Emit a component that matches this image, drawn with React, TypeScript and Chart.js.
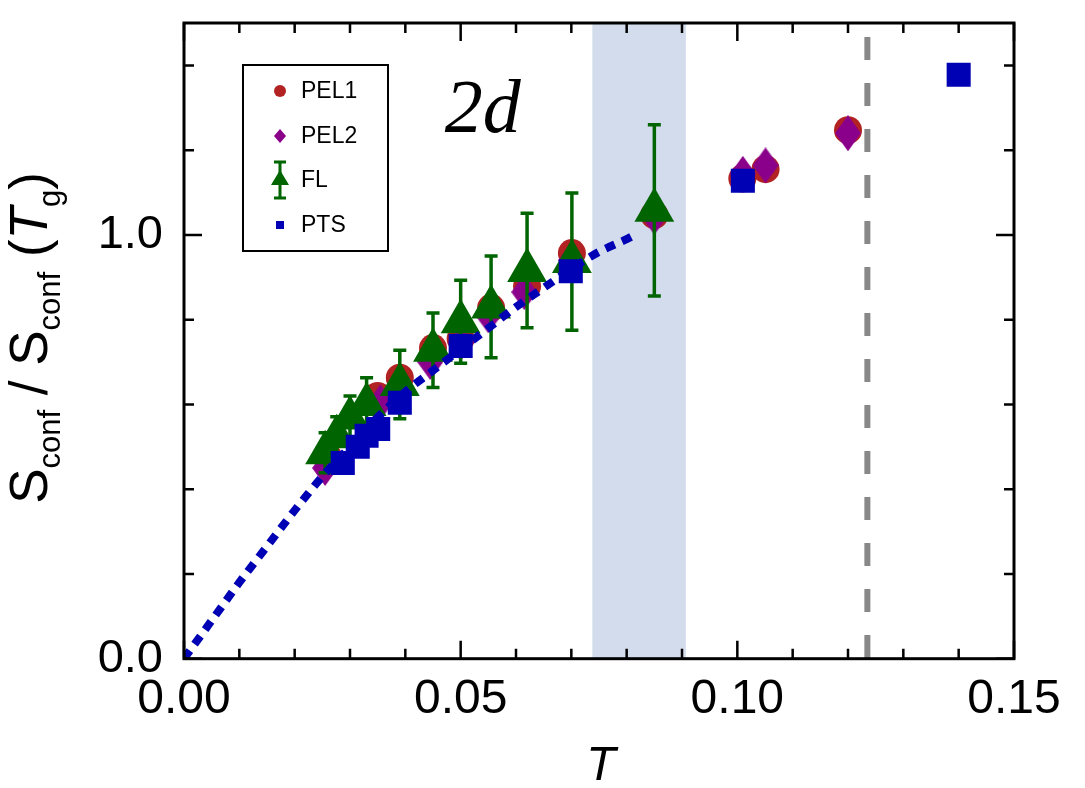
import { useEffect, useRef } from "react"
import { Chart, registerables, type ChartConfiguration } from "chart.js"

Chart.register(...registerables)

// PEL1 (red circles)
const pel1T = [0.0261, 0.035, 0.039, 0.045, 0.05, 0.0555, 0.062, 0.0701, 0.085, 0.1009, 0.1051, 0.12]
const pel1S = [0.475, 0.62, 0.663, 0.733, 0.755, 0.828, 0.879, 0.957, 1.047, 1.133, 1.155, 1.247]

// PEL2 (purple diamonds)
const pel2T = [0.0255, 0.0355, 0.039, 0.0445, 0.05, 0.055, 0.0615, 0.07, 0.085, 0.101, 0.1051, 0.12]
const pel2S = [0.45, 0.605, 0.645, 0.7, 0.745, 0.81, 0.865, 0.94, 1.043, 1.144, 1.164, 1.24]

// FL (green triangles with error bars)
const flT = [0.0255, 0.0276, 0.03, 0.033, 0.039, 0.045, 0.05, 0.0555, 0.062, 0.0701, 0.085]
const flS = [0.486, 0.524, 0.568, 0.6, 0.647, 0.728, 0.795, 0.83, 0.916, 0.937, 1.058]
const flErr = [0.047, 0.047, 0.052, 0.063, 0.081, 0.088, 0.098, 0.12, 0.135, 0.162, 0.202]

// PTS (blue squares)
const ptsT = [0.0287, 0.0314, 0.033, 0.0351, 0.039, 0.05, 0.0699, 0.101, 0.14]
const ptsS = [0.462, 0.5, 0.526, 0.542, 0.604, 0.738, 0.914, 1.128, 1.378]

// blue dotted curve
const fitT = [0, 0.005, 0.01, 0.015, 0.02, 0.025, 0.03, 0.035, 0.04, 0.045, 0.05, 0.055, 0.06, 0.065, 0.07, 0.075, 0.08, 0.0815]
const fitS = [0, 0.09, 0.18, 0.265, 0.35, 0.43, 0.5, 0.57, 0.63, 0.68, 0.73, 0.78, 0.83, 0.875, 0.92, 0.96, 0.99, 1.0]

// shaded band and dashed T_g line
const bandT = [0.0738, 0.0907]
const tgLineT = 0.1235

// ticks
const xTickLabels = [0, 0.05, 0.1, 0.15]
const xMinorTicks = [0.01, 0.02, 0.03, 0.04, 0.06, 0.07, 0.08, 0.09, 0.11, 0.12, 0.13, 0.14]
const yTickLabels = [0, 1.0]
const yMinorTicks = [0.2, 0.4, 0.6, 0.8, 1.2, 1.4]

const RED = "#b22222"
const PURPLE = "#8b008b"
const GREEN = "#006400"
const BLUE = "#0000b4"
const SANS = "'Liberation Sans', Arial, sans-serif"

function makeDiamond(w: number, h: number) {
  const c = document.createElement("canvas")
  c.width = w
  c.height = h
  const g = c.getContext("2d")!
  g.fillStyle = PURPLE
  g.beginPath()
  g.moveTo(w / 2, 0)
  g.lineTo(w, h / 2)
  g.lineTo(w / 2, h)
  g.lineTo(0, h / 2)
  g.closePath()
  g.fill()
  return c
}

const toPoints = (xs: number[], ys: number[]) => xs.map((x, i) => ({ x, y: ys[i] }))

const decorations = {
  id: "decorations",
  beforeDatasetsDraw(chart: any) {
    const { ctx, chartArea: a, scales } = chart
    const xs = scales.x
    const ys = scales.y
    ctx.save()
    // shaded band
    const b0 = xs.getPixelForValue(bandT[0])
    const b1 = xs.getPixelForValue(bandT[1])
    ctx.fillStyle = "rgb(211, 220, 237)"
    ctx.fillRect(b0, a.top, b1 - b0, a.bottom - a.top)
    // dashed vertical line
    const tx = xs.getPixelForValue(tgLineT)
    ctx.strokeStyle = "#888888"
    ctx.lineWidth = 6
    ctx.setLineDash([23, 23])
    ctx.lineDashOffset = 32
    ctx.beginPath()
    ctx.moveTo(tx, ys.getPixelForValue(1.5))
    ctx.lineTo(tx, ys.getPixelForValue(0))
    ctx.stroke()
    ctx.restore()
  },
  beforeDatasetDraw(chart: any, args: any) {
    if (chart.data.datasets[args.index].label !== "FL") return
    const { ctx, scales } = chart
    ctx.save()
    ctx.strokeStyle = GREEN
    ctx.lineWidth = 3.5
    flT.forEach((t, i) => {
      const x = scales.x.getPixelForValue(t)
      const yTop = scales.y.getPixelForValue(flS[i] + flErr[i])
      const yBot = scales.y.getPixelForValue(flS[i] - flErr[i])
      ctx.beginPath()
      ctx.moveTo(x, yTop)
      ctx.lineTo(x, yBot)
      ctx.moveTo(x - 6.5, yTop)
      ctx.lineTo(x + 6.5, yTop)
      ctx.moveTo(x - 6.5, yBot)
      ctx.lineTo(x + 6.5, yBot)
      ctx.stroke()
    })
    ctx.restore()
  },
  afterDraw(chart: any) {
    const { ctx, chartArea: a, scales } = chart
    const xs = scales.x
    const ys = scales.y
    ctx.save()

    // frame
    ctx.strokeStyle = "#000"
    ctx.lineWidth = 3
    ctx.strokeRect(a.left, a.top, a.right - a.left, a.bottom - a.top)

    // ticks on all four sides
    ctx.lineWidth = 2.5
    const xTick = (v: number, len: number) => {
      const p = xs.getPixelForValue(v)
      ctx.beginPath()
      ctx.moveTo(p, a.bottom)
      ctx.lineTo(p, a.bottom - len)
      ctx.moveTo(p, a.top)
      ctx.lineTo(p, a.top + len)
      ctx.stroke()
    }
    const yTick = (v: number, len: number) => {
      const p = ys.getPixelForValue(v)
      ctx.beginPath()
      ctx.moveTo(a.left, p)
      ctx.lineTo(a.left + len, p)
      ctx.moveTo(a.right, p)
      ctx.lineTo(a.right - len, p)
      ctx.stroke()
    }
    xTickLabels.forEach((v) => xTick(v, 18))
    xMinorTicks.forEach((v) => xTick(v, 10))
    yTickLabels.forEach((v) => yTick(v, 18))
    yMinorTicks.forEach((v) => yTick(v, 10))

    // "2d" label
    ctx.fillStyle = "#000"
    ctx.font = "italic 76px 'Liberation Serif', 'Times New Roman', serif"
    ctx.textAlign = "center"
    ctx.textBaseline = "alphabetic"
    ctx.fillText("2d", xs.getPixelForValue(0.054), ys.getPixelForValue(1.243))

    // legend
    const lx = a.left + 59
    const ly = a.top + 42
    ctx.lineWidth = 2
    ctx.strokeRect(lx, ly, 145, 186)
    const mx = lx + 37
    const rows = [ly + 26, ly + 71, ly + 115, ly + 160]
    ctx.font = `23px ${SANS}`
    ctx.textAlign = "left"
    ctx.textBaseline = "middle"
    ;["PEL1", "PEL2", "FL", "PTS"].forEach((t, i) => {
      ctx.fillStyle = "#000"
      ctx.fillText(t, lx + 58, rows[i] + 1)
    })
    // PEL1 marker
    ctx.fillStyle = RED
    ctx.beginPath()
    ctx.arc(mx, rows[0], 6, 0, Math.PI * 2)
    ctx.fill()
    // PEL2 marker
    ctx.fillStyle = PURPLE
    ctx.beginPath()
    ctx.moveTo(mx, rows[1] - 7)
    ctx.lineTo(mx + 6, rows[1])
    ctx.lineTo(mx, rows[1] + 7)
    ctx.lineTo(mx - 6, rows[1])
    ctx.closePath()
    ctx.fill()
    // FL marker
    ctx.strokeStyle = GREEN
    ctx.lineWidth = 3
    ctx.beginPath()
    ctx.moveTo(mx, rows[2] - 18)
    ctx.lineTo(mx, rows[2] + 18)
    ctx.moveTo(mx - 6, rows[2] - 18)
    ctx.lineTo(mx + 6, rows[2] - 18)
    ctx.moveTo(mx - 6, rows[2] + 18)
    ctx.lineTo(mx + 6, rows[2] + 18)
    ctx.stroke()
    ctx.fillStyle = GREEN
    ctx.beginPath()
    ctx.moveTo(mx, rows[2] - 10)
    ctx.lineTo(mx + 9, rows[2] + 5)
    ctx.lineTo(mx - 9, rows[2] + 5)
    ctx.closePath()
    ctx.fill()
    // PTS marker
    ctx.fillStyle = BLUE
    ctx.fillRect(mx - 4, rows[3] - 4, 8, 8)

    // x axis title
    ctx.fillStyle = "#000"
    ctx.font = `italic 48px ${SANS}`
    ctx.textAlign = "center"
    ctx.textBaseline = "alphabetic"
    ctx.fillText("T", (a.left + a.right) / 2 + 2, 780)

    // y axis title with subscripts
    const big = `53px ${SANS}`
    const bigIt = `italic 53px ${SANS}`
    const small = `31px ${SANS}`
    const parts = [
      { t: "S", f: big, dy: 0 },
      { t: "conf", f: small, dy: 13 },
      { t: " / ", f: big, dy: 0 },
      { t: "S", f: big, dy: 0 },
      { t: "conf", f: small, dy: 13 },
      { t: " (", f: big, dy: 0 },
      { t: "T", f: bigIt, dy: 0 },
      { t: "g", f: small, dy: 13 },
      { t: ")", f: big, dy: 0 },
    ]
    let total = 0
    const widths = parts.map((p) => {
      ctx.font = p.f
      const w = ctx.measureText(p.t).width
      total += w
      return w
    })
    ctx.translate(47, 338)
    ctx.rotate(-Math.PI / 2)
    ctx.textAlign = "left"
    let cx = -total / 2
    parts.forEach((p, i) => {
      ctx.font = p.f
      ctx.fillText(p.t, cx, p.dy)
      cx += widths[i]
    })
    ctx.restore()
  },
}

export default function App() {
  const chartRef = useRef<HTMLCanvasElement | null>(null)
  const chartInstanceRef = useRef<Chart | null>(null)

  useEffect(() => {
    document.body.style.margin = "0"
    if (!chartRef.current) return
    const ctx = chartRef.current.getContext("2d")
    if (!ctx) return

    if (chartInstanceRef.current) {
      chartInstanceRef.current.destroy()
    }

    const diamond = makeDiamond(26, 36)

    const config = {
      type: "scatter",
      data: {
        // first dataset is drawn on top
        datasets: [
          {
            label: "PTS",
            data: toPoints(ptsT, ptsS),
            pointStyle: "rect",
            pointRadius: 17,
            backgroundColor: BLUE,
            borderColor: BLUE,
            borderWidth: 0,
          },
          {
            label: "fit",
            data: toPoints(fitT, fitS),
            showLine: true,
            pointRadius: 0,
            borderColor: BLUE,
            borderWidth: 8,
            borderDash: [10, 8],
            borderCapStyle: "butt",
            cubicInterpolationMode: "monotone",
          },
          {
            label: "FL",
            data: toPoints(flT, flS),
            pointStyle: "triangle",
            pointRadius: 23,
            backgroundColor: GREEN,
            borderColor: GREEN,
            borderWidth: 0,
          },
          {
            label: "PEL2",
            data: toPoints(pel2T, pel2S),
            pointStyle: diamond,
            pointRadius: 18,
            backgroundColor: PURPLE,
            borderWidth: 0,
          },
          {
            label: "PEL1",
            data: toPoints(pel1T, pel1S),
            pointStyle: "circle",
            pointRadius: 14,
            backgroundColor: RED,
            borderColor: RED,
            borderWidth: 0,
          },
        ],
      },
      options: {
        animation: false,
        responsive: false,
        events: [],
        layout: { padding: { top: 20, right: 71, left: 0, bottom: 0 } },
        plugins: { legend: { display: false }, tooltip: { enabled: false } },
        scales: {
          x: {
            type: "linear",
            min: 0,
            max: 0.15,
            grid: { display: false, drawTicks: false },
            border: { display: false },
            afterBuildTicks: (axis: any) => {
              axis.ticks = xTickLabels.map((value) => ({ value }))
            },
            afterFit: (axis: any) => {
              axis.height = 129.3
              axis.paddingLeft = 0
              axis.paddingRight = 0
            },
            ticks: {
              autoSkip: false,
              maxRotation: 0,
              padding: 12,
              color: "#000",
              font: { family: SANS, size: 48 },
              callback: (v: any) => Number(v).toFixed(2),
            },
          },
          y: {
            type: "linear",
            min: 0,
            max: 1.5,
            grid: { display: false, drawTicks: false },
            border: { display: false },
            afterBuildTicks: (axis: any) => {
              axis.ticks = yTickLabels.map((value) => ({ value }))
            },
            afterFit: (axis: any) => {
              axis.width = 184
              axis.paddingTop = 0
              axis.paddingBottom = 0
            },
            ticks: {
              autoSkip: false,
              padding: 21,
              color: "#000",
              font: { family: SANS, size: 47 },
              callback: (v: any) => Number(v).toFixed(1),
            },
          },
        },
      },
      plugins: [decorations],
    } as unknown as ChartConfiguration

    chartInstanceRef.current = new Chart(ctx, config)

    return () => {
      if (chartInstanceRef.current) {
        chartInstanceRef.current.destroy()
        chartInstanceRef.current = null
      }
    }
  }, [])

  return (
    <div>
      <canvas ref={chartRef} width="1085" height="788" style={{ display: "block" }}></canvas>
    </div>
  )
}
